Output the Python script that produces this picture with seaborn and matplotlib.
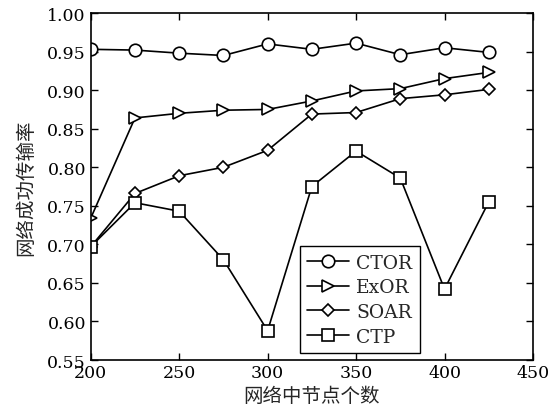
import matplotlib
matplotlib.use("Agg")
import matplotlib.pyplot as plt
import seaborn as sns
import pandas as pd

nodes = [200, 225, 250, 275, 300, 325, 350, 375, 400, 425]
ctor = [0.953, 0.952, 0.948, 0.945, 0.960, 0.953, 0.961, 0.946, 0.955, 0.949]
exor = [0.734, 0.864, 0.870, 0.874, 0.875, 0.886, 0.899, 0.902, 0.915, 0.923]
soar = [0.697, 0.766, 0.789, 0.800, 0.822, 0.869, 0.871, 0.889, 0.894, 0.901]
ctp = [0.697, 0.754, 0.743, 0.680, 0.588, 0.775, 0.821, 0.786, 0.642, 0.755]
series_names = ["CTOR", "ExOR", "SOAR", "CTP"]
series_values = [ctor, exor, soar, ctp]
markers = ["o", ">", "D", "s"]
marker_sizes = [9, 9, 6.5, 9]

sns.set_style("ticks")
plt.rcParams['font.family'] = ['DejaVu Serif', 'Noto Sans CJK SC']
plt.rcParams['xtick.direction'] = 'in'
plt.rcParams['ytick.direction'] = 'in'

fig = plt.figure(figsize=(5.5, 4.14), dpi=100)
ax = fig.add_axes([0.165, 0.128, 0.804, 0.838])

for name, vals, m, ms in zip(series_names, series_values, markers, marker_sizes):
    df = pd.DataFrame({"x": nodes, "y": vals})
    sns.lineplot(data=df, x="x", y="y", ax=ax, color="black", marker=m,
                 markersize=ms, markerfacecolor="white", markeredgecolor="black",
                 markeredgewidth=1.2, linewidth=1.2, label=name)

ax.set_xlim(200, 450)
ax.set_ylim(0.55, 1.00)
ax.set_xticks([200, 250, 300, 350, 400, 450])
ax.set_yticks([0.55, 0.60, 0.65, 0.70, 0.75, 0.80, 0.85, 0.90, 0.95, 1.00])
ax.set_yticklabels([f"{v:.2f}" for v in ax.get_yticks()])
ax.tick_params(axis='both', which='both', top=True, right=True, labelsize=12.5,
               length=5, width=1, colors='black')
ax.tick_params(axis='x', pad=3)
for s in ax.spines.values():
    s.set_linewidth(1.2)
    s.set_color('black')

ax.set_xlabel("网络中节点个数", fontsize=14, family=['Noto Sans CJK SC'], labelpad=3)
ax.set_ylabel("网络成功传输率", fontsize=14, family=['Noto Sans CJK SC'], labelpad=8)

leg = ax.legend(loc='lower left', bbox_to_anchor=(0.473, 0.02), borderaxespad=0,
                fontsize=13.5, frameon=True, fancybox=False, edgecolor='black',
                framealpha=1, handlelength=2.2, borderpad=0.4, labelspacing=0.35,
                handletextpad=0.4)
leg.get_frame().set_linewidth(1.0)

fig.savefig("out.png", dpi=100)
